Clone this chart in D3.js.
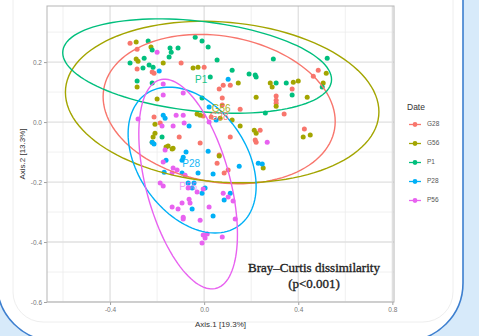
<!DOCTYPE html>
<html>
<head>
<meta charset="utf-8">
<script src="https://cdn.jsdelivr.net/npm/d3@7/dist/d3.min.js"></script>
<style>
html,body{margin:0;padding:0;background:#fff;}
svg{display:block;}
</style>
</head>
<body>
<svg id="chart" width="479" height="336"></svg>
<script>
// ---------------- DATA ----------------
const groups = ["G28", "G56", "P1", "P28", "P56"];
const groupColors = ["#F8766D", "#A3A500", "#00BF7D", "#00B0F6", "#E862F0"];

const xTicks = [-0.4, 0.0, 0.4, 0.8];
const yTicks = [0.2, 0.0, -0.2, -0.4, -0.6];
const xTickLabels = ["-0.4", "0.0", "0.4", "0.8"];
const yTickLabels = ["0.2", "0.0", "-0.2", "-0.4", "-0.6"];
const xMinor = [-0.6, -0.2, 0.2, 0.6];
const yMinor = [0.3, 0.1, -0.1, -0.3, -0.5];

const xTitle = "Axis.1  [19.3%]";
const yTitle = "Axis.2  [13.3%]";
const legendTitle = "Date";
const note = ["Bray\u2013Curtis dissimilarity", "(p<0.001)"];

// points [Axis.1, Axis.2] per group
const ptsG28 = [[-0.315,0.263],[-0.285,0.243],[-0.285,0.177],[-0.221,0.167],[-0.213,0.163],[-0.098,0.197],[0.000,0.183],[0.081,0.123],[0.064,0.110],[0.111,0.123],[0.077,0.080],[0.077,0.057],[-0.004,0.020],[0.030,0.017],[0.153,0.043],[-0.213,0.017],[-0.187,-0.003],[-0.106,-0.050],[-0.017,-0.070],[0.485,0.173],[0.464,0.153],[0.374,0.110],[0.306,0.087],[0.306,0.073],[0.306,0.063],[0.340,0.027],[0.238,-0.027],[0.221,-0.067],[0.426,-0.023],[0.111,-0.050],[0.064,-0.110],[0.102,-0.160],[0.217,-0.060],[0.055,-0.137],[0.085,-0.170]];
const ptsG56 = [[-0.289,0.267],[-0.226,0.250],[-0.289,0.210],[-0.281,0.203],[-0.174,0.197],[-0.047,0.180],[-0.026,0.183],[-0.285,0.117],[0.145,0.130],[-0.200,0.077],[-0.017,0.023],[0.119,0.007],[-0.209,-0.007],[-0.209,-0.037],[-0.217,-0.050],[-0.162,-0.083],[-0.153,-0.080],[-0.132,-0.087],[0.064,-0.113],[0.519,0.163],[0.281,0.130],[0.289,0.117],[0.379,0.133],[0.400,0.137],[0.506,0.130],[0.221,0.083],[0.438,0.083],[0.306,0.053],[0.153,-0.013],[0.213,-0.027],[0.221,-0.037],[0.421,-0.050],[0.451,-0.043],[0.251,-0.153],[-0.030,0.027],[0.068,0.013],[-0.221,-0.067],[-0.136,-0.090]];
const ptsP1 = [[-0.238,0.270],[-0.221,0.240],[-0.145,0.247],[-0.140,0.233],[-0.111,0.247],[-0.038,0.283],[-0.009,0.270],[0.017,0.250],[0.055,0.207],[0.119,0.173],[-0.315,0.197],[-0.255,0.213],[-0.260,0.180],[-0.234,0.190],[-0.217,0.183],[-0.149,0.217],[0.026,0.150],[-0.285,0.137],[-0.221,0.130],[-0.009,0.080],[-0.179,-0.050],[0.294,0.210],[0.523,0.213],[0.191,0.160],[0.217,0.157],[0.221,0.150],[0.306,0.130],[0.349,0.130],[0.502,0.117],[0.374,0.090],[0.260,0.030]];
const ptsP28 = [[-0.191,0.170],[0.102,0.143],[0.021,0.050],[-0.174,0.023],[-0.166,0.013],[-0.064,-0.013],[0.051,0.007],[-0.221,-0.067],[-0.213,-0.073],[-0.077,-0.100],[0.017,-0.097],[-0.089,-0.117],[-0.094,-0.127],[-0.162,-0.127],[0.230,-0.137],[0.247,-0.140],[0.149,-0.147],[-0.170,-0.167],[-0.026,-0.170],[0.038,-0.173],[-0.094,-0.170],[-0.068,-0.203],[-0.043,-0.203],[-0.051,-0.220],[0.004,-0.220],[-0.009,-0.237],[0.111,-0.237],[0.085,-0.260],[-0.051,-0.290],[0.038,-0.313]];
const ptsP56 = [[-0.200,0.233],[-0.174,0.127],[-0.089,0.097],[-0.174,0.090],[-0.119,0.023],[-0.089,0.023],[-0.281,0.010],[-0.179,-0.013],[-0.132,-0.013],[-0.085,-0.003],[0.021,0.000],[0.268,-0.067],[-0.166,-0.093],[-0.174,-0.133],[-0.132,-0.153],[-0.115,-0.160],[-0.136,-0.170],[-0.081,-0.177],[-0.187,-0.203],[-0.174,-0.213],[-0.068,-0.220],[-0.030,-0.233],[-0.004,-0.223],[0.081,-0.237],[0.102,-0.250],[0.123,-0.263],[-0.064,-0.257],[-0.060,-0.270],[-0.094,-0.270],[-0.136,-0.283],[-0.111,-0.290],[0.021,-0.283],[-0.089,-0.317],[-0.089,-0.323],[-0.017,-0.327],[0.132,-0.323],[-0.004,-0.377],[0.013,-0.373],[0.004,-0.387],[-0.009,-0.403],[0.077,-0.383]];

// ellipse centres and shape matrices (sxx, sxy, syy) in axis units
const ellipseCenters = [[0.0638,0.0433],[0.0766,0.0667],[-0.0298,0.1867],[-0.0511,-0.1267],[-0.0681,-0.2067]];
const ellipseCov = [[0.24332,-0.02028,0.06201],[0.44397,-0.02158,0.07253],[0.3264,-0.02548,0.02475],[0.07403,-0.02383,0.05916],[0.04395,-0.03511,0.12223]];
// group label (centroid) positions
const labelPos = [[0.0638,0.016],[0.0723,0.044],[-0.0128,0.140],[-0.0553,-0.140],[-0.068,-0.2167]];

// ---------------- DRAW ----------------
const svg = d3.select("#chart");
const W = 479, H = 336;
const sans = "Liberation Sans, Arial, sans-serif";

// poster frame background
svg.append("rect").attr("x",0).attr("y",0).attr("width",W).attr("height",H).attr("fill","#d7eafa");
svg.append("rect").attr("x",-3).attr("y",-80).attr("width",466).attr("height",421)
  .attr("rx",58).attr("ry",58).attr("fill","#ffffff").attr("stroke","#3d7fcf").attr("stroke-width",1.6);
svg.append("rect").attr("x",13).attr("y",-40).attr("width",440).attr("height",362)
  .attr("rx",30).attr("ry",30).attr("fill","none").attr("stroke","#eeeeee").attr("stroke-width",1);

const m = {left:47, right:394, top:6, bottom:302};
const x = d3.scaleLinear().domain([-0.668, 0.807]).range([m.left, m.right]);
const y = d3.scaleLinear().domain([-0.6, 0.387]).range([m.bottom, m.top]);

const panel = svg.append("g");
panel.append("rect").attr("x",m.left).attr("y",m.top).attr("width",m.right-m.left).attr("height",m.bottom-m.top).attr("fill","#fff");

// minor grid
panel.selectAll(".gxm").data(xMinor).enter().append("line")
  .attr("x1",d=>x(d)).attr("x2",d=>x(d)).attr("y1",m.top).attr("y2",m.bottom)
  .attr("stroke","#ececec").attr("stroke-width",0.8);
panel.selectAll(".gym").data(yMinor).enter().append("line")
  .attr("y1",d=>y(d)).attr("y2",d=>y(d)).attr("x1",m.left).attr("x2",m.right)
  .attr("stroke","#ececec").attr("stroke-width",0.8);
// major grid
panel.selectAll(".gx").data(xTicks).enter().append("line")
  .attr("x1",d=>x(d)).attr("x2",d=>x(d)).attr("y1",m.top).attr("y2",m.bottom)
  .attr("stroke","#e0e0e0").attr("stroke-width",1.3);
panel.selectAll(".gy").data(yTicks).enter().append("line")
  .attr("y1",d=>y(d)).attr("y2",d=>y(d)).attr("x1",m.left).attr("x2",m.right)
  .attr("stroke","#e0e0e0").attr("stroke-width",1.3);

// axes
const xAxis = d3.axisBottom(x).tickValues(xTicks).tickFormat((d,i)=>xTickLabels[i]).tickSize(3).tickPadding(2);
const yAxis = d3.axisLeft(y).tickValues(yTicks).tickFormat((d,i)=>yTickLabels[i]).tickSize(3).tickPadding(2);
const gx = svg.append("g").attr("transform",`translate(0,${m.bottom})`).call(xAxis);
const gy = svg.append("g").attr("transform",`translate(${m.left},0)`).call(yAxis);
[gx,gy].forEach(g=>{
  g.select(".domain").remove();
  g.selectAll(".tick line").attr("stroke","#888").attr("stroke-width",0.8);
  g.selectAll(".tick text").attr("fill","#777").attr("font-family",sans).attr("font-size",6.5);
});

// points
const allPts = [ptsG28, ptsG56, ptsP1, ptsP28, ptsP56];
allPts.forEach((pts,gi)=>{
  svg.append("g").selectAll("circle").data(pts).enter().append("circle")
    .attr("cx",d=>x(d[0])).attr("cy",d=>y(d[1])).attr("r",2.5)
    .attr("fill",groupColors[gi]);
});

// ellipses
const tSteps = d3.range(0, 361, 3).map(a=>a*Math.PI/180);
const line = d3.line().x(d=>x(d[0])).y(d=>y(d[1])).curve(d3.curveLinearClosed);
groups.forEach((g,gi)=>{
  const [cx,cy] = ellipseCenters[gi];
  const [sxx,sxy,syy] = ellipseCov[gi];
  const l11 = Math.sqrt(sxx), l21 = sxy/l11, l22 = Math.sqrt(syy - l21*l21);
  const pts = tSteps.map(t=>[cx + l11*Math.cos(t), cy + l21*Math.cos(t) + l22*Math.sin(t)]);
  svg.append("path").attr("d",line(pts)).attr("fill","none")
    .attr("stroke",groupColors[gi]).attr("stroke-width",1.4);
});

// panel border
svg.append("rect").attr("x",m.left).attr("y",m.top).attr("width",m.right-m.left).attr("height",m.bottom-m.top)
  .attr("fill","none").attr("stroke","#b5b5b5").attr("stroke-width",1);

// group labels
groups.forEach((g,gi)=>{
  svg.append("text").attr("x",x(labelPos[gi][0])).attr("y",y(labelPos[gi][1]))
    .attr("text-anchor","middle").attr("dominant-baseline","middle")
    .attr("font-family",sans).attr("font-size",10)
    .attr("fill",groupColors[gi]).attr("opacity", g==="P56"?0.6:0.9).text(g);
});

// axis titles
svg.append("text").attr("x",(m.left+m.right)/2).attr("y",327).attr("text-anchor","middle")
  .attr("font-family",sans).attr("font-size",8).attr("fill","#333").text(xTitle);
svg.append("text").attr("transform",`translate(25,${(m.top+m.bottom)/2}) rotate(-90)`).attr("text-anchor","middle")
  .attr("font-family",sans).attr("font-size",8).attr("fill","#333").text(yTitle);

// legend
const lg = svg.append("g");
lg.append("text").attr("x",407).attr("y",110).attr("font-family",sans)
  .attr("font-size",8.5).attr("fill","#333").text(legendTitle);
groups.forEach((g,gi)=>{
  const ly = 124.5 + gi*19;
  lg.append("line").attr("x1",409).attr("x2",421).attr("y1",ly).attr("y2",ly)
    .attr("stroke",groupColors[gi]).attr("stroke-width",1.3);
  lg.append("circle").attr("cx",415).attr("cy",ly).attr("r",2.4).attr("fill",groupColors[gi]);
  lg.append("text").attr("x",427).attr("y",ly).attr("dominant-baseline","middle")
    .attr("font-family",sans).attr("font-size",6.5).attr("fill","#555").text(g);
});

// annotation
note.forEach((t,i)=>{
  svg.append("text").attr("x",314).attr("y",272 + i*16).attr("text-anchor","middle")
    .attr("font-family","Liberation Serif, serif").attr("font-size",13).attr("fill","#222")
    .attr("stroke","#222").attr("stroke-width",0.35).text(t);
});
</script>
</body>
</html>
